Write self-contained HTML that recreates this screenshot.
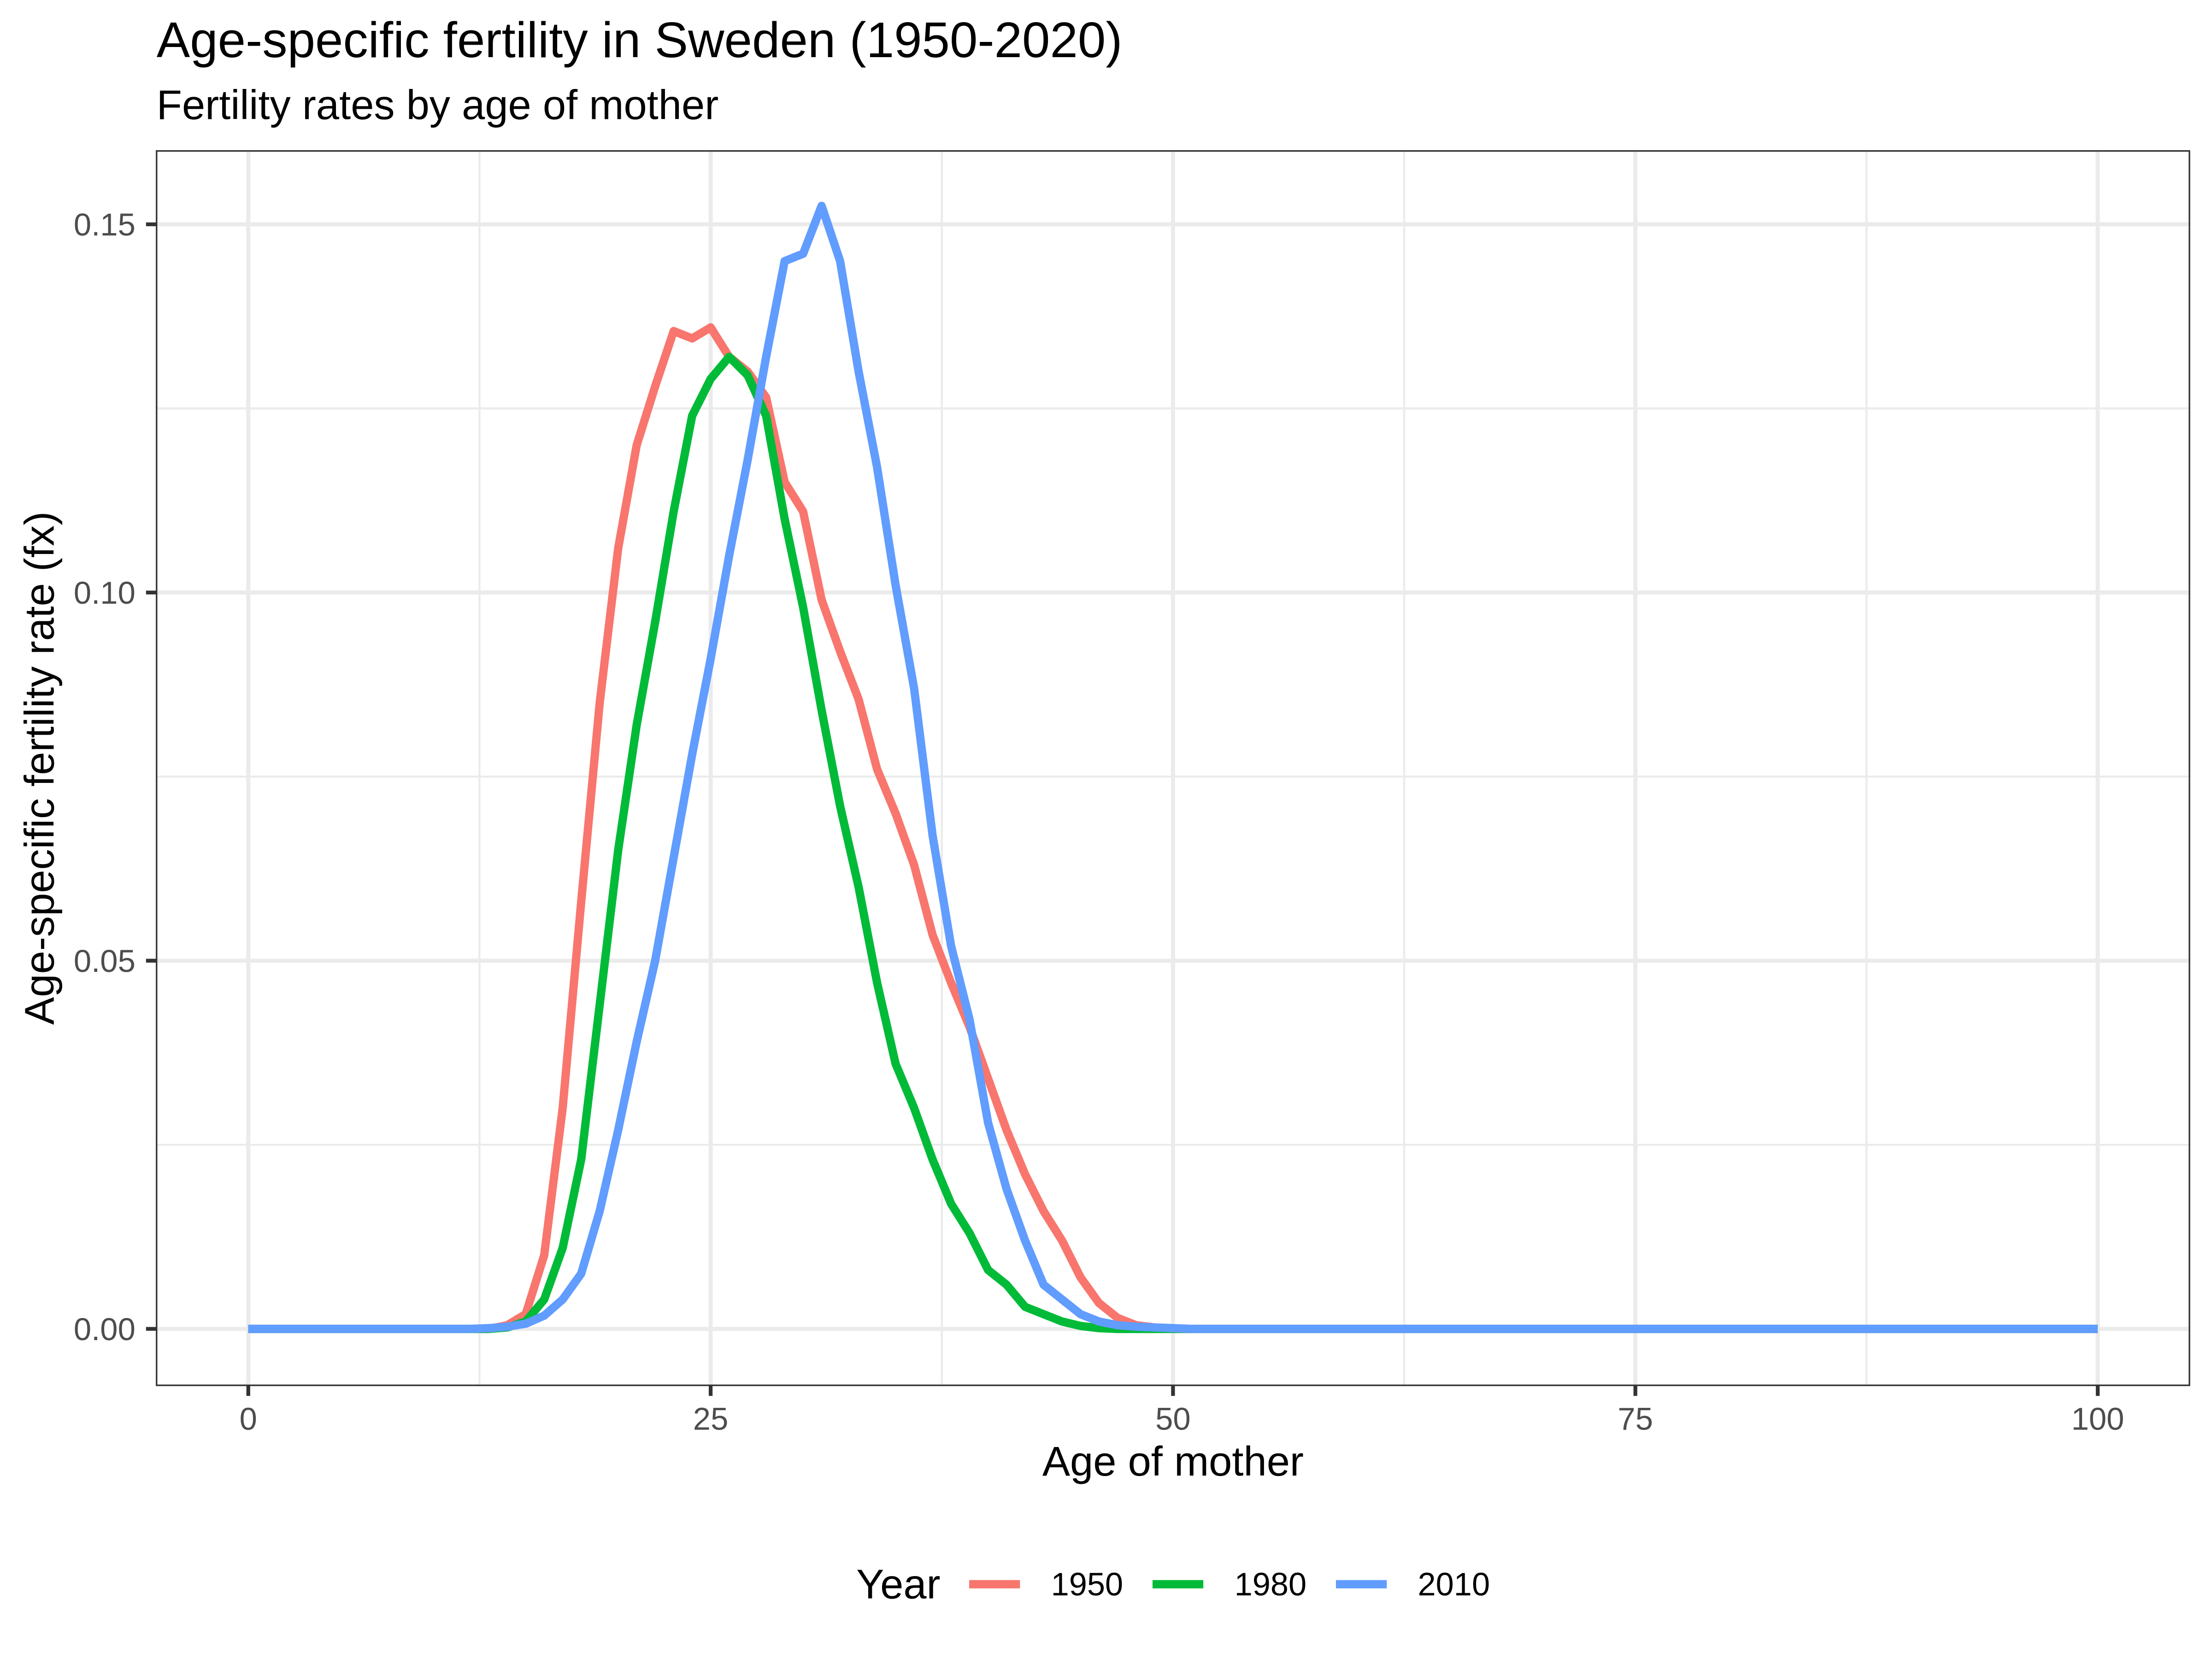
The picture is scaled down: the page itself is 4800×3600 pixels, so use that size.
<!DOCTYPE html>
<html><head><meta charset="utf-8">
<style>html,body{margin:0;padding:0;background:#fff}svg{display:block}text{font-family:"Liberation Sans",sans-serif}</style>
</head><body>
<svg id="chart" width="4800" height="3600" viewBox="0 0 1568 1176" xmlns="http://www.w3.org/2000/svg">
<rect width="1568" height="1176" fill="#fff"/>
<text x="111" y="40.5" font-size="35.5" fill="#000">Age-specific fertility in Sweden (1950-2020)</text>
<text x="111" y="84.5" font-size="29.5" fill="#000">Fertility rates by age of mother</text>
<g id="grid"></g>
<g id="series"></g>
<rect x="111" y="107" width="1441" height="875" fill="none" stroke="#333" stroke-width="1.1"/>
<g id="axes"></g>
<text x="831.5" y="1046" font-size="29.5" text-anchor="middle">Age of mother</text>
<text transform="translate(38,544.5) rotate(-90)" font-size="29.5" text-anchor="middle">Age-specific fertility rate (fx)</text>
<g id="legend"></g>
</svg>
<script>
const ages = Array.from({length:101},(_, i)=>i);
const years = ["1950","1980","2010"];
const colors = ["#F8766D","#00BA38","#619CFF"];
const fx1950Peak = [0.0005,0.002,0.010,0.030,0.058,0.085,0.106,0.120,0.128,0.1355,0.1345,0.136,0.132,0.130,0.1265,0.115,0.111,0.099,0.092,0.0855,0.076,0.070,0.063,0.0535,0.047,0.041,0.034,0.027,0.021,0.016,0.012,0.007,0.0035,0.0015,0.0005,0.0002]; // ages 14-49
const fx1980Peak = [0.0002,0.001,0.004,0.011,0.023,0.044,0.065,0.082,0.096,0.111,0.124,0.129,0.132,0.1295,0.124,0.110,0.098,0.084,0.071,0.060,0.047,0.036,0.030,0.023,0.017,0.013,0.008,0.006,0.003,0.002,0.001,0.0004,0.0001]; // ages 14-46
const fx2010Peak = [0.0001,0.0003,0.0007,0.0018,0.004,0.0075,0.016,0.027,0.039,0.050,0.064,0.078,0.091,0.105,0.118,0.132,0.145,0.146,0.1525,0.145,0.130,0.117,0.101,0.087,0.067,0.052,0.042,0.028,0.019,0.012,0.006,0.004,0.002,0.001,0.0005,0.0003,0.0002,0.0001]; // ages 13-50
const peakStart = [14,14,13];
const xTicks = [0,25,50,75,100];
const yTicks = [0,0.05,0.10,0.15];
const yTickLabels = ["0.00","0.05","0.10","0.15"];

const NS="http://www.w3.org/2000/svg";
const X = v => 176 + v*(1487-176)/100;
const Y = v => 942 - v*(942-159)/0.15;
function mk(tag, attrs, parent){const e=document.createElementNS(NS,tag);for(const k in attrs)e.setAttribute(k,attrs[k]);parent.appendChild(e);return e;}
const grid=document.getElementById('grid'), axes=document.getElementById('axes'), series=document.getElementById('series'), legend=document.getElementById('legend');

for(let i=0;i<xTicks.length-1;i++){
  const m=(xTicks[i]+xTicks[i+1])/2;
  const l=mk('line',{x1:X(m),x2:X(m),y1:107,y2:982,stroke:'#ebebeb','stroke-width':1.45},grid);
  
  
}
for(let i=0;i<yTicks.length;i++){
  const m=yTicks[i]+0.025;
  if(Y(m)<107) continue;
  const l=mk('line',{x1:111,x2:1552,y1:Y(m),y2:Y(m),stroke:'#ebebeb','stroke-width':1.45},grid);
  
  
}
xTicks.forEach(t=>{
  const l=mk('line',{x1:X(t),x2:X(t),y1:107,y2:982,stroke:'#ebebeb','stroke-width':2.9},grid);
  
  
  const tk=mk('line',{x1:X(t),x2:X(t),y1:982,y2:989.5,stroke:'#333','stroke-width':2.7},axes);
  
  
  const tx=mk('text',{x:X(t),y:1013.5,'font-size':22.5,fill:'#4d4d4d','text-anchor':'middle'},axes);
  tx.textContent=t;
  
  
});
yTicks.forEach((t,i)=>{
  const l=mk('line',{x1:111,x2:1552,y1:Y(t),y2:Y(t),stroke:'#ebebeb','stroke-width':2.9},grid);
  
  
  const tk=mk('line',{x1:103.5,x2:111,y1:Y(t),y2:Y(t),stroke:'#333','stroke-width':2.7},axes);
  
  
  const tx=mk('text',{x:96,y:Y(t)+8,'font-size':22.5,fill:'#4d4d4d','text-anchor':'end'},axes);
  tx.textContent=yTickLabels[i];
  
  
});

const peaks=[fx1950Peak,fx1980Peak,fx2010Peak];
peaks.forEach((pk,s)=>{
  const vals=ages.map(a=>{const k=a-peakStart[s];return (k>=0&&k<pk.length)?pk[k]:0;});
  const d=ages.map((a,i)=>(i?'L':'M')+X(a).toFixed(2)+','+Y(vals[i]).toFixed(2)).join('');
  const p=mk('path',{d:d,fill:'none',stroke:colors[s],'stroke-width':5.9,'stroke-linejoin':'round'},series);
  
  
});

const lt=mk('text',{x:607,y:1133,'font-size':29.5},legend);
lt.textContent='Year';


years.forEach((yr,i)=>{
  const x0=687+i*130;
  const l=mk('line',{x1:x0,x2:x0+36,y1:1123,y2:1123,stroke:colors[i],'stroke-width':5.9},legend);
  
  
  const t=mk('text',{x:x0+58,y:1131,'font-size':23},legend);
  t.textContent=yr;
  
  
});
</script>
</body></html>
